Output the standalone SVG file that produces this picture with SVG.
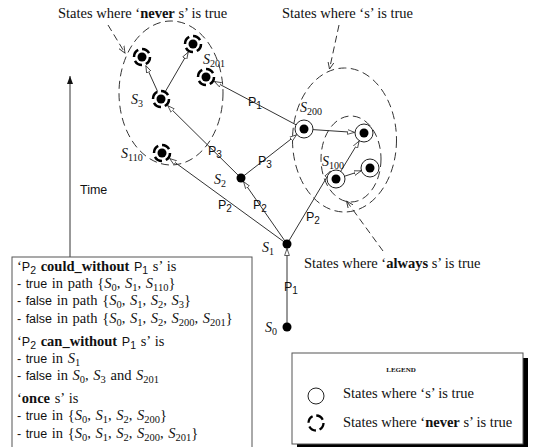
<svg xmlns="http://www.w3.org/2000/svg" width="539" height="447" viewBox="0 0 539 447">
<defs>
<marker id="arr" markerWidth="8" markerHeight="6" refX="7" refY="3" orient="auto" markerUnits="userSpaceOnUse"><path d="M0,0.6 L7,3 L0,5.4 Z" fill="#fff" stroke="#333" stroke-width="0.8"/></marker>
<marker id="larr" markerWidth="8" markerHeight="7" refX="7" refY="3.5" orient="auto" markerUnits="userSpaceOnUse"><path d="M0,0.5 L7,3.5 L0,6.5" fill="none" stroke="#333" stroke-width="0.9"/></marker>
<marker id="tarr" markerWidth="8" markerHeight="10" refX="8" refY="3.5" orient="auto" markerUnits="userSpaceOnUse"><path d="M0,0.5 L8,3.5 L0,6.5 Z" fill="#111"/></marker>
</defs>
<style>
.e{stroke:#333;stroke-width:1;fill:none;marker-end:url(#arr)}
.ld{stroke:#333;stroke-width:1;fill:none;stroke-dasharray:7 4;marker-end:url(#larr)}
.ell{stroke:#333;stroke-width:1;fill:none;stroke-dasharray:8 4.5}
.dot{fill:#000}
.ring{fill:#fff;stroke:#222;stroke-width:1}
.nring{fill:#fff;stroke:#000;stroke-width:2.5;stroke-dasharray:8.5 4}
.sr{font-family:"Liberation Serif",serif;font-size:14.5px;fill:#111}
.bx{word-spacing:1px}
.ss{font-family:"Liberation Sans",sans-serif}
.bs{font-size:12.5px}
.it{font-style:italic}
.b{font-weight:bold}
.sub{font-size:10px}
.bx .sub{font-size:10.5px}
.pl{font-family:"Liberation Sans",sans-serif;font-size:12.5px;fill:#111}
.nl{font-family:"Liberation Serif",serif;font-size:14px;font-style:italic;fill:#111}
.box{fill:#fff;stroke:#555;stroke-width:1}
</style>

<!-- region ellipses -->
<g id="regions">
<ellipse class="ell" cx="171" cy="93" rx="52" ry="72"/>
<ellipse class="ell" cx="344.5" cy="140" rx="52" ry="72"/>
<ellipse class="ell" cx="351" cy="159" rx="30" ry="43"/>
</g>

<!-- connectors -->
<g id="connectors">
<line class="e" x1="287" y1="327" x2="287" y2="248.5"/>
<line class="e" x1="287" y1="244" x2="243.6" y2="181.7"/>
<line class="e" x1="287" y1="244" x2="169.7" y2="158.6"/>
<line class="e" x1="287" y1="244" x2="330.3" y2="171.4"/>
<line class="e" x1="241" y1="178" x2="167.8" y2="105.7"/>
<line class="e" x1="241" y1="178" x2="296.5" y2="134.8"/>
<line class="e" x1="161" y1="99" x2="145.9" y2="65.7"/>
<line class="e" x1="161" y1="99" x2="188.2" y2="52.2"/>
<line class="e" x1="304" y1="129" x2="214.4" y2="81.5"/>
<line class="e" x1="304" y1="129" x2="354.5" y2="132.4"/>
<line class="e" x1="336" y1="179" x2="359.1" y2="141.1"/>
<line class="e" x1="336" y1="179" x2="361" y2="170.9"/>
<line class="ld" x1="108" y1="25" x2="125" y2="53"/>
<line class="ld" x1="339" y1="25" x2="329.5" y2="69"/>
<line class="ld" x1="383" y1="251" x2="346.5" y2="201"/>
<line x1="70" y1="257" x2="70" y2="76" stroke="#333" stroke-width="1" marker-end="url(#tarr)"/>
</g>

<!-- edge labels -->
<g id="edge-labels">
<text class="pl" x="284" y="291">P<tspan class="sub" dy="3">1</tspan></text>
<text class="pl" x="218" y="209">P<tspan class="sub" dy="3">2</tspan></text>
<text class="pl" x="253" y="209">P<tspan class="sub" dy="3">2</tspan></text>
<text class="pl" x="306" y="221">P<tspan class="sub" dy="3">2</tspan></text>
<text class="pl" x="208" y="155">P<tspan class="sub" dy="3">3</tspan></text>
<text class="pl" x="258" y="165">P<tspan class="sub" dy="3">3</tspan></text>
<text class="pl" x="248" y="106">P<tspan class="sub" dy="3">1</tspan></text>
</g>

<!-- nodes -->
<g id="S0"><circle class="dot" cx="287" cy="327" r="4.5"/><text class="nl" x="265" y="332">S<tspan class="sub" dy="3" font-style="normal">0</tspan></text></g>
<g id="S1"><circle class="dot" cx="287" cy="244" r="4.5"/><text class="nl" x="262" y="252">S<tspan class="sub" dy="3" font-style="normal">1</tspan></text></g>
<g id="S2"><circle class="dot" cx="241" cy="178" r="4.5"/><text class="nl" x="214" y="184">S<tspan class="sub" dy="3" font-style="normal">2</tspan></text></g>
<g id="S3"><circle class="nring" cx="161" cy="99" r="8"/><circle class="dot" cx="161" cy="99" r="4.5"/><text class="nl" x="131" y="104">S<tspan class="sub" dy="3" font-style="normal">3</tspan></text></g>
<g id="S3a"><circle class="nring" cx="142" cy="57" r="8"/><circle class="dot" cx="142" cy="57" r="4.5"/></g>
<g id="S3b"><circle class="nring" cx="193" cy="44" r="8"/><circle class="dot" cx="193" cy="44" r="4.5"/></g>
<g id="S201"><circle class="nring" cx="206" cy="77" r="8"/><circle class="dot" cx="206" cy="77" r="4.5"/><text class="nl" x="203" y="64">S<tspan class="sub" dy="3" font-style="normal">201</tspan></text></g>
<g id="S110"><circle class="nring" cx="162" cy="153" r="8"/><circle class="dot" cx="162" cy="153" r="4.5"/><text class="nl" x="121" y="158">S<tspan class="sub" dy="3" font-style="normal">110</tspan></text></g>
<g id="S200"><circle class="ring" cx="304" cy="129" r="9"/><circle class="dot" cx="304" cy="129" r="4.5"/><text class="nl" x="300" y="112">S<tspan class="sub" dy="3" font-style="normal">200</tspan></text></g>
<g id="S200a"><circle class="ring" cx="364" cy="133" r="9"/><circle class="dot" cx="364" cy="133" r="4.5"/></g>
<g id="S100"><circle class="ring" cx="336" cy="179" r="9"/><circle class="dot" cx="336" cy="179" r="4.5"/><text class="nl" x="322" y="166">S<tspan class="sub" dy="3" font-style="normal">100</tspan></text></g>
<g id="S100a"><circle class="ring" cx="370" cy="168" r="9"/><circle class="dot" cx="370" cy="168" r="4.5"/></g>

<!-- region labels -->
<g id="region-labels">
<text class="sr" x="58" y="18">States where ‘<tspan class="b">never</tspan> s’ is true</text>
<text class="sr" x="282" y="18">States where ‘s’ is true</text>
<text class="sr" x="304" y="268">States where ‘<tspan class="b">always</tspan> s’ is true</text>
<text class="ss" x="80" y="194" font-size="12.5" fill="#111">Time</text>
</g>

<!-- text box -->
<g id="notes">
<rect class="box" x="12" y="257" width="240" height="200"/>
<text class="sr bx" x="17" y="271">‘<tspan class="ss bs">P</tspan><tspan class="sub ss" dy="3">2</tspan><tspan dy="-3" class="b"> could_without </tspan><tspan class="ss bs">P</tspan><tspan class="sub ss" dy="3">1</tspan><tspan dy="-3"> s’ is</tspan></text>
<text class="sr bx" x="17" y="288"><tspan class="ss bs">- true</tspan> in path {<tspan class="it">S</tspan><tspan class="sub" dy="3">0</tspan><tspan dy="-3">, </tspan><tspan class="it">S</tspan><tspan class="sub" dy="3">1</tspan><tspan dy="-3">, </tspan><tspan class="it">S</tspan><tspan class="sub" dy="3">110</tspan><tspan dy="-3">}</tspan></text>
<text class="sr bx" x="17" y="305"><tspan class="ss bs">- false</tspan> in path {<tspan class="it">S</tspan><tspan class="sub" dy="3">0</tspan><tspan dy="-3">, </tspan><tspan class="it">S</tspan><tspan class="sub" dy="3">1</tspan><tspan dy="-3">, </tspan><tspan class="it">S</tspan><tspan class="sub" dy="3">2</tspan><tspan dy="-3">, </tspan><tspan class="it">S</tspan><tspan class="sub" dy="3">3</tspan><tspan dy="-3">}</tspan></text>
<text class="sr bx" x="17" y="323"><tspan class="ss bs">- false</tspan> in path {<tspan class="it">S</tspan><tspan class="sub" dy="3">0</tspan><tspan dy="-3">, </tspan><tspan class="it">S</tspan><tspan class="sub" dy="3">1</tspan><tspan dy="-3">, </tspan><tspan class="it">S</tspan><tspan class="sub" dy="3">2</tspan><tspan dy="-3">, </tspan><tspan class="it">S</tspan><tspan class="sub" dy="3">200</tspan><tspan dy="-3">, </tspan><tspan class="it">S</tspan><tspan class="sub" dy="3">201</tspan><tspan dy="-3">}</tspan></text>
<text class="sr bx" x="17" y="346">‘<tspan class="ss bs">P</tspan><tspan class="sub ss" dy="3">2</tspan><tspan dy="-3" class="b"> can_without </tspan><tspan class="ss bs">P</tspan><tspan class="sub ss" dy="3">1</tspan><tspan dy="-3"> s’ is</tspan></text>
<text class="sr bx" x="17" y="363"><tspan class="ss bs">- true</tspan> in <tspan class="it">S</tspan><tspan class="sub" dy="3">1</tspan></text>
<text class="sr bx" x="17" y="380"><tspan class="ss bs">- false</tspan> in <tspan class="it">S</tspan><tspan class="sub" dy="3">0</tspan><tspan dy="-3">, </tspan><tspan class="it">S</tspan><tspan class="sub" dy="3">3</tspan><tspan dy="-3"> and </tspan><tspan class="it">S</tspan><tspan class="sub" dy="3">201</tspan></text>
<text class="sr bx" x="17" y="403">‘<tspan class="b">once</tspan> s’ is</text>
<text class="sr bx" x="17" y="420"><tspan class="ss bs">- true</tspan> in {<tspan class="it">S</tspan><tspan class="sub" dy="3">0</tspan><tspan dy="-3">, </tspan><tspan class="it">S</tspan><tspan class="sub" dy="3">1</tspan><tspan dy="-3">, </tspan><tspan class="it">S</tspan><tspan class="sub" dy="3">2</tspan><tspan dy="-3">, </tspan><tspan class="it">S</tspan><tspan class="sub" dy="3">200</tspan><tspan dy="-3">}</tspan></text>
<text class="sr bx" x="17" y="438"><tspan class="ss bs">- true</tspan> in {<tspan class="it">S</tspan><tspan class="sub" dy="3">0</tspan><tspan dy="-3">, </tspan><tspan class="it">S</tspan><tspan class="sub" dy="3">1</tspan><tspan dy="-3">, </tspan><tspan class="it">S</tspan><tspan class="sub" dy="3">2</tspan><tspan dy="-3">, </tspan><tspan class="it">S</tspan><tspan class="sub" dy="3">200</tspan><tspan dy="-3">, </tspan><tspan class="it">S</tspan><tspan class="sub" dy="3">201</tspan><tspan dy="-3">}</tspan></text>
</g>

<!-- legend -->
<g id="legend">
<rect x="297" y="358" width="231" height="91" fill="#000"/>
<rect class="box" x="292" y="353" width="231" height="91"/>
<text x="401" y="372" text-anchor="middle" font-family="Liberation Serif, serif" font-size="7" font-weight="bold" fill="#111">LEGEND</text>
<circle cx="316" cy="396" r="8" fill="#fff" stroke="#222" stroke-width="1"/>
<text class="sr" x="343" y="398">States where ‘s’ is true</text>
<circle cx="316" cy="423" r="7.5" fill="none" stroke="#000" stroke-width="2.3" stroke-dasharray="8 3.8"/>
<text class="sr" x="343" y="427">States where ‘<tspan class="b">never</tspan> s’ is true</text>
</g>
</svg>
